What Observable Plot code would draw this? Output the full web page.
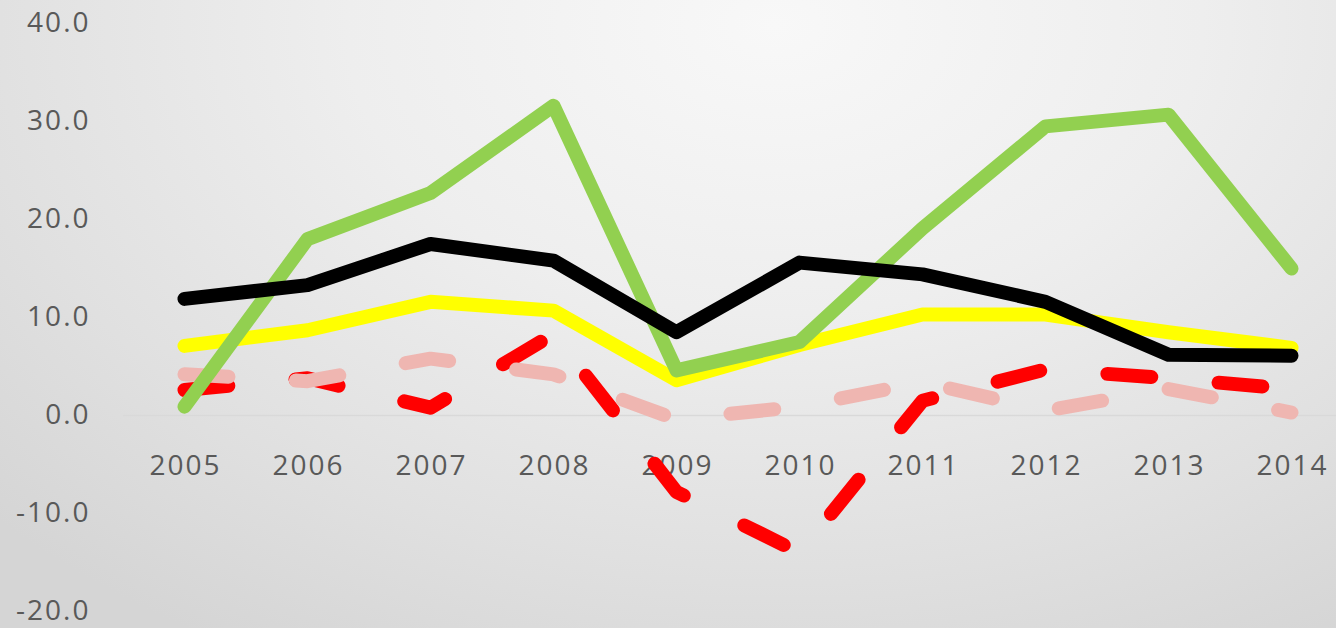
<!DOCTYPE html>
<html>
<head>
<meta charset="utf-8">
<script src="https://cdn.jsdelivr.net/npm/d3@7"></script>
<script src="https://cdn.jsdelivr.net/npm/@observablehq/plot@0.6"></script>
<style>
  html, body { margin: 0; padding: 0; }
  body { width: 1336px; height: 628px; overflow: hidden; }
  #chart svg text { letter-spacing: 2px; }
</style>
</head>
<body>
<div id="chart"></div>
<script>
const years = [2005, 2006, 2007, 2008, 2009, 2010, 2011, 2012, 2013, 2014];
const yTicks = [-20, -10, 0, 10, 20, 30, 40];

const greenValues  = [0.9, 18.0, 22.7, 31.6, 4.6, 7.5, 19.1, 29.5, 30.7, 15.0];
const blackValues  = [11.9, 13.3, 17.5, 15.8, 8.5, 15.6, 14.4, 11.6, 6.2, 6.1];
const yellowValues = [7.1, 8.7, 11.6, 10.7, 3.6, 7.2, 10.3, 10.3, 8.5, 6.9];
const redValues    = [2.6, 3.8, 0.8, 8.3, -7.8, -14.0, 1.5, 4.7, 3.8, 2.7];
const pinkValues   = [4.2, 3.5, 5.8, 4.2, -0.4, 0.9, 3.4, 0.5, 2.7, 0.3];

const toRows = (vals) => years.map((y, i) => ({year: y, value: vals[i]}));

const font = "'Open Sans', 'DejaVu Sans', sans-serif";

const lineStyle = {x: "year", y: "value", strokeWidth: 14, strokeLinecap: "round", strokeLinejoin: "round"};

const chart = Plot.plot({
  width: 1336,
  height: 628,
  marginLeft: 123,
  marginRight: 0,
  marginTop: 23,
  marginBottom: 17,
  style: {
    background: "radial-gradient(ellipse 80% 115% at 58% 4%, #f8f8f8 0%, #eeeeee 40%, #e0e0e0 75%, #d5d5d5 100%)",
    fontFamily: font
  },
  x: {type: "point", domain: years, range: [184, 1291], padding: 0, axis: null},
  y: {domain: [-20, 40], axis: null},
  marks: [
    Plot.ruleY([0], {stroke: "#d9d9d9", strokeWidth: 1.5}),
    Plot.axisY(yTicks, {
      tickSize: 0, tickPadding: 33,
      tickFormat: d => d.toFixed(1),
      fontSize: 28, fill: "#595959", label: null
    }),
    Plot.text(years, {
      x: d => d, y: 0, text: d => String(d), dy: 51, dx: 1,
      fontSize: 28, fill: "#595959", lineAnchor: "middle", textAnchor: "middle"
    }),
    Plot.line(toRows(redValues), {...lineStyle, stroke: "#ff0000", strokeDasharray: "44,67.5"}),
    Plot.line(toRows(pinkValues), {...lineStyle, stroke: "#efb6b1", strokeDasharray: "44,67.5"}),
    Plot.line(toRows(yellowValues), {...lineStyle, stroke: "#ffff00"}),
    Plot.line(toRows(greenValues), {...lineStyle, stroke: "#92d050"}),
    Plot.line(toRows(blackValues), {...lineStyle, stroke: "#000000"})
  ]
});
document.getElementById("chart").appendChild(chart);
</script>
</body>
</html>
